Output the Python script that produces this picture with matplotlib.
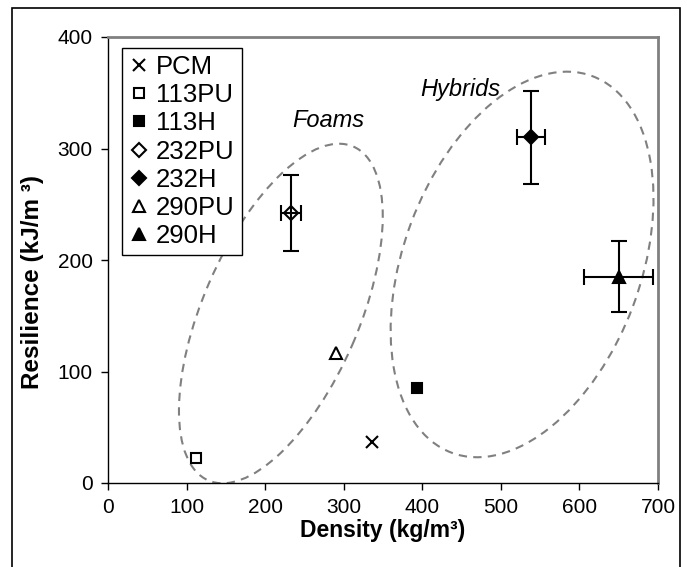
import matplotlib
matplotlib.use("Agg")
import matplotlib.pyplot as plt
from matplotlib.patches import Ellipse, Rectangle
from matplotlib.transforms import ScaledTranslation

plt.rcParams['font.family'] = ['Liberation Sans', 'DejaVu Sans']

# Samples
names = ['PCM', '113PU', '113H', '232PU', '232H', '290PU', '290H']
density = [336, 112, 393, 233, 538, 290, 650]          # kg/m3
resilience = [37, 22, 85, 242, 310, 117, 185]         # kJ/m3
density_err = [0, 0, 0, 13, 18, 0, 44]
resilience_err = [0, 0, 0, 34, 42, 0, 32]

x_ticks = [0, 100, 200, 300, 400, 500, 600, 700]
y_ticks = [0, 100, 200, 300, 400]

styles = {
    'PCM':   dict(marker='x', ms=9, mfc='black', mew=1.5),
    '113PU': dict(marker='s', ms=7, mfc='white', mew=1.5),
    '113H':  dict(marker='s', ms=7, mfc='black', mew=1.5),
    '232PU': dict(marker='D', ms=7.5, mfc='white', mew=1.5),
    '232H':  dict(marker='D', ms=7.5, mfc='black', mew=1.5),
    '290PU': dict(marker='^', ms=8, mfc='white', mew=1.5),
    '290H':  dict(marker='^', ms=8, mfc='black', mew=1.5),
}

fig = plt.figure(figsize=(6.87, 5.67), dpi=100)
ax = fig.add_axes([108 / 687, 84 / 567, 550 / 687, 446 / 567])

# outer chart frame
fig.patches.append(Rectangle((12 / 687, -0.05), 668 / 687, 1.05 - 8 / 567,
                             transform=fig.transFigure, fill=False,
                             edgecolor='black', lw=1.2, zorder=0))

# group outlines (size in inches, centred on data coordinates)
groups = [
    dict(center=(220, 152), w=3.64, h=1.56, angle=66.5),
    dict(center=(527, 196), w=4.02, h=2.37, angle=69.5),
]
for g in groups:
    tr = fig.dpi_scale_trans + ScaledTranslation(g['center'][0], g['center'][1], ax.transData)
    e = Ellipse((0, 0), g['w'], g['h'], angle=g['angle'], transform=tr,
                fill=False, edgecolor='#808080', lw=1.5, linestyle=(0, (4, 3)))
    ax.add_patch(e)

for n, x, y, xe, ye in zip(names, density, resilience, density_err, resilience_err):
    st = styles[n]
    ax.plot([x], [y], linestyle='none', color='black', mec='black',
            label=n, zorder=3, **st)
    if xe or ye:
        ax.errorbar([x], [y], xerr=[xe], yerr=[ye], fmt='none', ecolor='black',
                    elinewidth=1.5, capsize=5.5, capthick=1.5, zorder=4)

ax.text(280, 325, 'Foams', style='italic', fontsize=17, ha='center', va='center')
ax.text(449, 353, 'Hybrids', style='italic', fontsize=17, ha='center', va='center')

ax.set_xlim(0, 700)
ax.set_ylim(0, 400)
ax.set_xticks(x_ticks)
ax.set_yticks(y_ticks)
ax.tick_params(direction='out', length=5, width=1, labelsize=15, colors='black', pad=6)

for side in ('left', 'bottom'):
    ax.spines[side].set_color('black')
    ax.spines[side].set_linewidth(1)
for side in ('top', 'right'):
    ax.spines[side].set_color('#808080')
    ax.spines[side].set_linewidth(2)

ax.set_xlabel('Density (kg/m³)', fontsize=16.5, fontweight='bold', labelpad=1)
ax.set_ylabel('Resilience (kJ/m ³)', fontsize=17.5, fontweight='bold')
ax.yaxis.set_label_coords(-0.117, 0.45)

leg = ax.legend(loc='upper left', bbox_to_anchor=(14 / 550, 1 - 11 / 446),
                borderaxespad=0, fontsize=18.5, frameon=True, fancybox=False,
                edgecolor='black', framealpha=1, handlelength=0.75,
                handletextpad=0.3, labelspacing=0.16, borderpad=0.28,
                numpoints=1)
leg.get_frame().set_linewidth(1)

fig.savefig('out.png', dpi=100)
